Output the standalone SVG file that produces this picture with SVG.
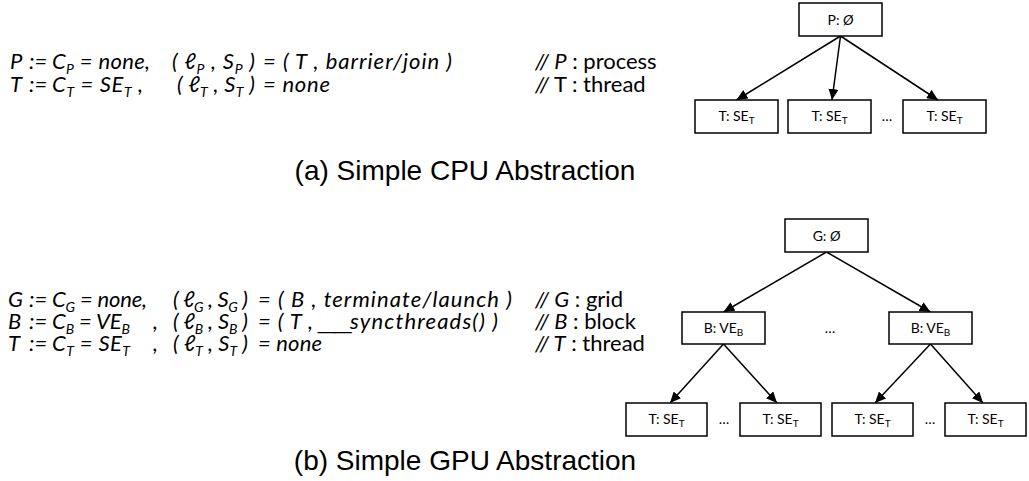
<svg xmlns="http://www.w3.org/2000/svg" width="1029" height="481" viewBox="0 0 1029 481">
  <style>
    .f { font-family: Lato, "Open Sans", "DejaVu Sans", sans-serif; font-size: 22px; font-style: italic; fill: #000; }
    .u { font-family: "Liberation Sans", Arial, sans-serif; font-size: 22px; fill: #000; }
    .c { font-family: Lato, "Open Sans", "DejaVu Sans", sans-serif; font-size: 22px; fill: #000; }
    .sub { font-size: 14px; }
    .box { fill: #fff; stroke: #000; stroke-width: 1.5; }
    .lbl { font-family: Lato, "Open Sans", "DejaVu Sans", sans-serif; font-size: 14px; fill: #000; text-anchor: middle; }
    .dots { font-family: Lato, "Open Sans", "DejaVu Sans", sans-serif; font-size: 14px; fill: #000; text-anchor: middle; }
    .cap { font-family: "Liberation Sans", Arial, sans-serif; font-size: 28px; fill: #000; text-anchor: middle; }
    .edge { stroke: #000; stroke-width: 1.5; fill: none; marker-end: url(#arr); }
  </style>
  <defs>
    <marker id="arr" markerUnits="userSpaceOnUse" markerWidth="12" markerHeight="10" refX="11" refY="5" orient="auto">
      <path d="M0,0 L11,5 L0,10 z" fill="#000"/>
    </marker>
  </defs>
  <rect width="1029" height="481" fill="#fff"/>

  <!-- (a) CPU definitions -->
  <g id="cpu-defs">
    <text class="f" x="10" y="69">P</text>
    <text class="f" x="29" y="69">:=</text>
    <text class="f" x="52" y="69" textLength="98" lengthAdjust="spacing">C<tspan class="sub" dy="5">P</tspan><tspan dy="-5"> = none,</tspan></text>
    <text class="f" x="172" y="69" textLength="83" lengthAdjust="spacing">( ℓ<tspan class="sub" dy="5">P</tspan><tspan dy="-5"> , S</tspan><tspan class="sub" dy="5">P</tspan><tspan dy="-5"> )</tspan></text>
    <text class="f" x="263" y="69" textLength="189" lengthAdjust="spacing">= ( T , barrier/join )</text>
    <text class="c" x="535" y="69"><tspan font-style="italic">// P</tspan> : process</text>

    <text class="f" x="10" y="92">T</text>
    <text class="f" x="29" y="92">:=</text>
    <text class="f" x="52" y="92" textLength="91" lengthAdjust="spacing">C<tspan class="sub" dy="5">T</tspan><tspan dy="-5"> = SE</tspan><tspan class="sub" dy="5">T</tspan><tspan dy="-5"> ,</tspan></text>
    <text class="f" x="177" y="92" textLength="78" lengthAdjust="spacing">( ℓ<tspan class="sub" dy="5">T</tspan><tspan dy="-5"> , S</tspan><tspan class="sub" dy="5">T</tspan><tspan dy="-5"> )</tspan></text>
    <text class="f" x="263" y="92" textLength="67" lengthAdjust="spacing">= none</text>
    <text class="c" x="535" y="92"><tspan font-style="italic">//</tspan> T : thread</text>
  </g>

  <!-- (a) CPU tree -->
  <g id="cpu-edges">
    <line class="edge" x1="840.5" y1="36" x2="736.5" y2="100"/>
    <line class="edge" x1="840.5" y1="36" x2="832" y2="100"/>
    <line class="edge" x1="840.5" y1="36" x2="938" y2="100"/>
  </g>
  <g id="node-p">
    <rect class="box" x="799" y="3" width="83" height="33"/>
    <text class="lbl" x="840.5" y="25">P: <tspan font-style="italic">Ø</tspan></text>
  </g>
  <g id="node-cpu-t1">
    <rect class="box" x="695" y="100" width="83" height="33"/>
    <text class="lbl" x="736.5" y="121">T: SE<tspan font-size="10" dy="3">T</tspan></text>
  </g>
  <g id="node-cpu-t2">
    <rect class="box" x="788" y="100" width="83" height="33"/>
    <text class="lbl" x="829.5" y="121">T: SE<tspan font-size="10" dy="3">T</tspan></text>
  </g>
  <text class="dots" x="887" y="121">…</text>
  <g id="node-cpu-t3">
    <rect class="box" x="903" y="100" width="83" height="33"/>
    <text class="lbl" x="944.5" y="121">T: SE<tspan font-size="10" dy="3">T</tspan></text>
  </g>

  <text class="cap" x="465" y="180">(a) Simple CPU Abstraction</text>

  <!-- (b) GPU definitions -->
  <g id="gpu-defs">
    <text class="f" x="8" y="307">G</text>
    <text class="f" x="29" y="307">:=</text>
    <text class="f" x="52" y="307" textLength="95" lengthAdjust="spacing">C<tspan class="sub" dy="5">G</tspan><tspan dy="-5"> = none,</tspan></text>
    <text class="f" x="173" y="307" textLength="75" lengthAdjust="spacing">( ℓ<tspan class="sub" dy="5">G</tspan><tspan dy="-5"> , S</tspan><tspan class="sub" dy="5">G</tspan><tspan dy="-5"> )</tspan></text>
    <text class="f" x="258" y="307" textLength="254" lengthAdjust="spacing">= ( B , terminate/launch )</text>
    <text class="c" x="535" y="307"><tspan font-style="italic">// G</tspan> : grid</text>

    <text class="f" x="8" y="329">B</text>
    <text class="f" x="29" y="329">:=</text>
    <text class="f" x="52" y="329" textLength="78" lengthAdjust="spacing">C<tspan class="sub" dy="5">B</tspan><tspan dy="-5"> = VE</tspan><tspan class="sub" dy="5">B</tspan></text>
    <text class="f" x="153" y="329">,</text>
    <text class="f" x="173" y="329" textLength="75" lengthAdjust="spacing">( ℓ<tspan class="sub" dy="5">B</tspan><tspan dy="-5"> , S</tspan><tspan class="sub" dy="5">B</tspan><tspan dy="-5"> )</tspan></text>
    <text class="f" x="258" y="329" textLength="55" lengthAdjust="spacing">= ( T ,</text>
    <text class="u" x="318" y="329" textLength="32" lengthAdjust="spacingAndGlyphs" letter-spacing="-1">__</text>
    <text class="f" x="350" y="329" textLength="148" lengthAdjust="spacing">syncthreads() )</text>
    <text class="c" x="535" y="329"><tspan font-style="italic">// B</tspan> : block</text>

    <text class="f" x="8" y="351">T</text>
    <text class="f" x="29" y="351">:=</text>
    <text class="f" x="52" y="351" textLength="78" lengthAdjust="spacing">C<tspan class="sub" dy="5">T</tspan><tspan dy="-5"> = SE</tspan><tspan class="sub" dy="5">T</tspan></text>
    <text class="f" x="153" y="351">,</text>
    <text class="f" x="173" y="351" textLength="75" lengthAdjust="spacing">( ℓ<tspan class="sub" dy="5">T</tspan><tspan dy="-5"> , S</tspan><tspan class="sub" dy="5">T</tspan><tspan dy="-5"> )</tspan></text>
    <text class="f" x="258" y="351" textLength="64" lengthAdjust="spacing">= none</text>
    <text class="c" x="535" y="351"><tspan font-style="italic">// T</tspan> : thread</text>
  </g>

  <!-- (b) GPU tree -->
  <g id="gpu-edges">
    <line class="edge" x1="826.5" y1="252" x2="723.5" y2="312"/>
    <line class="edge" x1="826.5" y1="252" x2="930.5" y2="312"/>
    <line class="edge" x1="723.5" y1="344" x2="670" y2="403"/>
    <line class="edge" x1="723.5" y1="344" x2="777" y2="403"/>
    <line class="edge" x1="930.5" y1="344" x2="875" y2="403"/>
    <line class="edge" x1="930.5" y1="344" x2="983" y2="403"/>
  </g>
  <g id="node-g">
    <rect class="box" x="785" y="219" width="83" height="33"/>
    <text class="lbl" x="826.5" y="241">G: <tspan font-style="italic">Ø</tspan></text>
  </g>
  <g id="node-b1">
    <rect class="box" x="682" y="312" width="83" height="32"/>
    <text class="lbl" x="723.5" y="333">B: VE<tspan font-size="10" dy="3">B</tspan></text>
  </g>
  <text class="dots" x="830" y="333">…</text>
  <g id="node-b2">
    <rect class="box" x="889" y="312" width="83" height="32"/>
    <text class="lbl" x="930.5" y="333">B: VE<tspan font-size="10" dy="3">B</tspan></text>
  </g>
  <g id="node-gpu-t1">
    <rect class="box" x="626" y="403" width="81" height="33"/>
    <text class="lbl" x="666.5" y="424">T: SE<tspan font-size="10" dy="3">T</tspan></text>
  </g>
  <text class="dots" x="724" y="424">…</text>
  <g id="node-gpu-t2">
    <rect class="box" x="740" y="403" width="81" height="33"/>
    <text class="lbl" x="780.5" y="424">T: SE<tspan font-size="10" dy="3">T</tspan></text>
  </g>
  <g id="node-gpu-t3">
    <rect class="box" x="832" y="403" width="81" height="33"/>
    <text class="lbl" x="872.5" y="424">T: SE<tspan font-size="10" dy="3">T</tspan></text>
  </g>
  <text class="dots" x="930" y="424">…</text>
  <g id="node-gpu-t4">
    <rect class="box" x="945" y="403" width="81" height="33"/>
    <text class="lbl" x="985.5" y="424">T: SE<tspan font-size="10" dy="3">T</tspan></text>
  </g>

  <text class="cap" x="465" y="470">(b) Simple GPU Abstraction</text>
</svg>
